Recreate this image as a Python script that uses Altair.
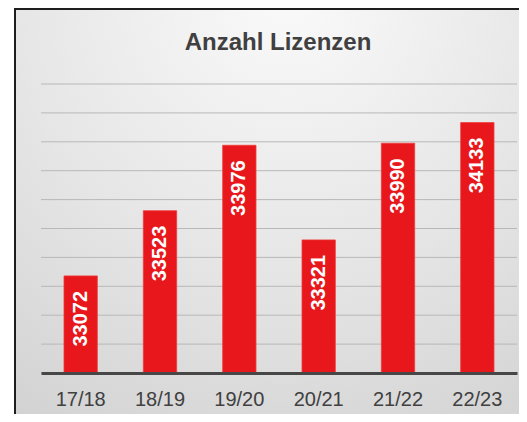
import altair as alt
import pandas as pd

seasons = ["17/18", "18/19", "19/20", "20/21", "21/22", "22/23"]
licences = [33072, 33523, 33976, 33321, 33990, 34133]
grid_values = [32400, 32600, 32800, 33000, 33200, 33400, 33600, 33800, 34000, 34200, 34400]
y_domain = [32400, 34400]
title_text = "Anzahl Lizenzen"

df = pd.DataFrame({"season": seasons, "value": licences})
grid_df = pd.DataFrame({"g": grid_values})

FONT = "Liberation Sans"
W, H = 476, 289

y_scale = alt.Scale(domain=y_domain, zero=False, nice=False)

background = alt.Chart(alt.Data(values=[{"a": 1}])).mark_rect(
    fill=alt.RadialGradient(
        gradient="radial",
        stops=[
            alt.GradientStop(color="#fafafa", offset=0),
            alt.GradientStop(color="#e6e6e6", offset=0.5),
            alt.GradientStop(color="#cfcfcf", offset=1),
        ],
        x1=0.5, y1=0.08, r1=0,
        x2=0.5, y2=0.08, r2=1.0,
    ),
    stroke="#1e1e1e",
    strokeWidth=2,
).encode(
    x=alt.value(-26),
    x2=alt.value(W + 40),
    y=alt.value(-75),
    y2=alt.value(H + 60),
)

title = alt.Chart(alt.Data(values=[{"t": title_text}])).mark_text(
    fontSize=24,
    fontWeight="bold",
    font=FONT,
    color="#404040",
    align="center",
    baseline="alphabetic",
).encode(
    x=alt.value(W / 2 - 1),
    y=alt.value(-34),
    text="t:N",
)

grid = alt.Chart(grid_df).mark_rule(color="#b8b8b8", strokeWidth=1).encode(
    y=alt.Y("g:Q", scale=y_scale, axis=None),
    x=alt.value(0),
    x2=alt.value(W),
)

bars = alt.Chart(df).mark_bar(color="#e8171c", stroke="#f03a3a", strokeWidth=0.8).encode(
    x=alt.X(
        "season:N",
        sort=seasons,
        scale=alt.Scale(paddingInner=0.58, paddingOuter=0.29),
        axis=alt.Axis(
            title=None,
            labelAngle=0,
            labelFontSize=20,
            labelFont=FONT,
            labelColor="#404040",
            labelPadding=16,
            ticks=False,
            domainColor="#474747",
            domainWidth=3,
            zindex=1,
        ),
    ),
    y=alt.Y("value:Q", scale=y_scale, axis=None),
    y2=alt.datum(y_domain[0]),
)

labels = alt.Chart(df).mark_text(
    angle=270,
    align="right",
    baseline="middle",
    color="white",
    fontSize=20,
    fontWeight="bold",
    font=FONT,
    yOffset=15,
).encode(
    x=alt.X("season:N", sort=seasons),
    y=alt.Y("value:Q", scale=y_scale),
    text=alt.Text("value:Q", format="d"),
)

chart = alt.layer(background, title, grid, bars, labels).properties(
    width=W,
    height=H,
    padding={"left": 33, "top": 76, "right": 2, "bottom": 41},
    autosize=alt.AutoSizeParams(type="none"),
).configure_view(stroke=None).configure(background="white")

chart.save("out.html", embed_options={"renderer": "svg", "actions": False})
